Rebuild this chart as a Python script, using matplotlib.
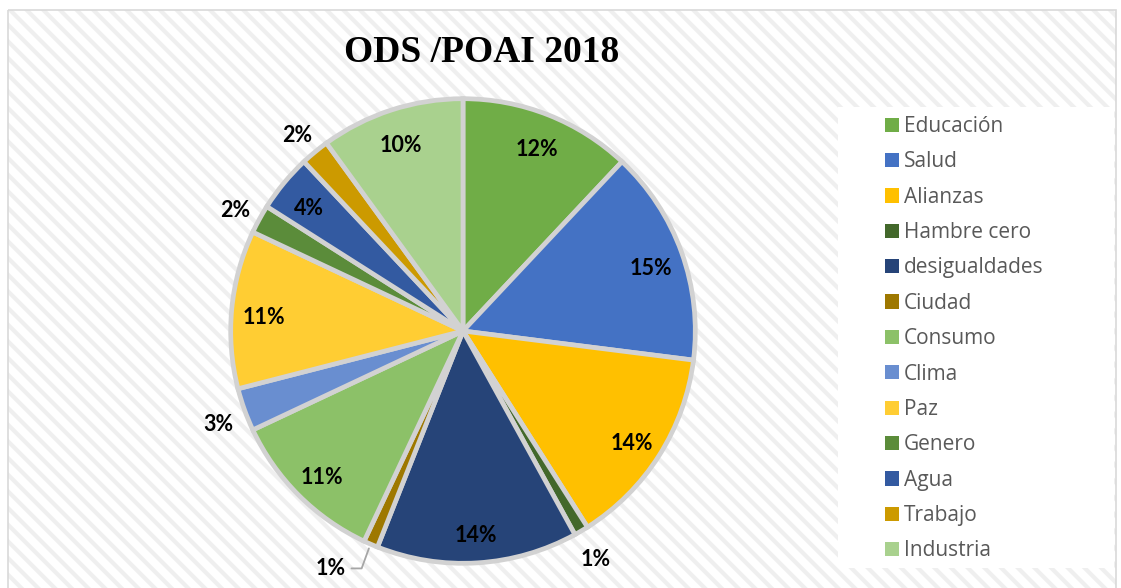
import numpy as np
import matplotlib.pyplot as plt
from matplotlib.patches import Rectangle
from matplotlib.transforms import offset_copy

labels = ['Educación', 'Salud', 'Alianzas', 'Hambre cero', 'desigualdades', 'Ciudad',
          'Consumo', 'Clima', 'Paz', 'Genero', 'Agua', 'Trabajo', 'Industria']
values = [12, 15, 14, 1, 14, 1, 11, 3, 11, 2, 4, 2, 10]
colors = ['#70AD47', '#4472C4', '#FFC000', '#43682B', '#264478', '#9E7800', '#8CC168',
          '#698ED0', '#FFCD33', '#5B8C3A', '#335AA1', '#CC9A00', '#A9D18E']
title = 'ODS /POAI 2018'

W, H = 1121, 588
fig = plt.figure(figsize=(W / 100, H / 100), dpi=100)

# background with diagonal stripes
plt.rcParams['hatch.linewidth'] = 3.0
bg = fig.add_axes([0, 0, 1, 1])
bg.set_xlim(0, W)
bg.set_ylim(H, 0)
bg.axis('off')
bg.add_patch(Rectangle((8, 10), 1108, 600, facecolor='white', edgecolor='#efefef',
                       hatch='\\\\', linewidth=0))
bg.add_patch(Rectangle((8, 10), 1108, 600, facecolor='none', edgecolor='#d9d9d9', linewidth=1.2))
bg.add_patch(Rectangle((838, 107), 276, 461, facecolor='white', edgecolor='none'))

# pie axes, 230 px radius centred at (463, 331)
cx, cy, R = 463, 331, 230
x0, x1 = 150, 780
ax = fig.add_axes([x0 / W, 0, (x1 - x0) / W, 1])
ax.patch.set_alpha(0)

wedges, _ = ax.pie(values, colors=colors, startangle=90, counterclock=False,
                   radius=1.01,
                   wedgeprops=dict(edgecolor='#d2d2d2', linewidth=3.4))
ax.set_aspect('auto')
ax.set_xlim((x0 - cx) / R, (x1 - cx) / R)
ax.set_ylim((cy - H) / R, cy / R)
ax.axis('off')

lab_tr = offset_copy(ax.transData, fig=fig, x=0, y=-5, units='dots')
lab_font = dict(family=['Lato', 'DejaVu Sans'], fontweight='bold', fontsize=15.5, color='black')
for w, v, name in zip(wedges, values, labels):
    ang = np.deg2rad((w.theta1 + w.theta2) / 2)
    c = np.array(w.center)
    txt = '%d%%' % v
    if name == 'Ciudad':
        xy = c + 1.03 * np.array([np.cos(ang), np.sin(ang)])
        ax.annotate(txt, xy=xy, xytext=(-23, -20), textcoords='offset pixels',
                    ha='right', va='center',
                    arrowprops=dict(arrowstyle='-', color='#a6a6a6', lw=1.3,
                                    shrinkA=2, shrinkB=0, relpos=(1, 0.5),
                                    connectionstyle='angle,angleA=0,angleB=70,rad=0'),
                    **lab_font)
        continue
    d = 1.13 if v <= 3 else 0.87
    p = c + d * np.array([np.cos(ang), np.sin(ang)])
    ax.text(p[0], p[1], txt, ha='center', va='center', transform=lab_tr, **lab_font)

fig.text(482 / W, 1 - 52 / H, title, ha='center', va='center',
         family=['Liberation Serif', 'DejaVu Serif'], fontweight='bold', fontsize=27)

leg = fig.legend(wedges, labels, loc='upper left', bbox_to_anchor=(885 / W, 1 - 116 / H),
                 frameon=False, handlelength=0.67, handleheight=0.67,
                 handletextpad=0.25, labelspacing=0.69, borderpad=0, borderaxespad=0,
                 prop=dict(family=['Open Sans', 'DejaVu Sans'], size=15))
for t in leg.get_texts():
    t.set_color('#595959')
for h in leg.legend_handles:
    h.set_edgecolor('none')
    h.set_linewidth(0)

fig.savefig('out.png', dpi=100)
